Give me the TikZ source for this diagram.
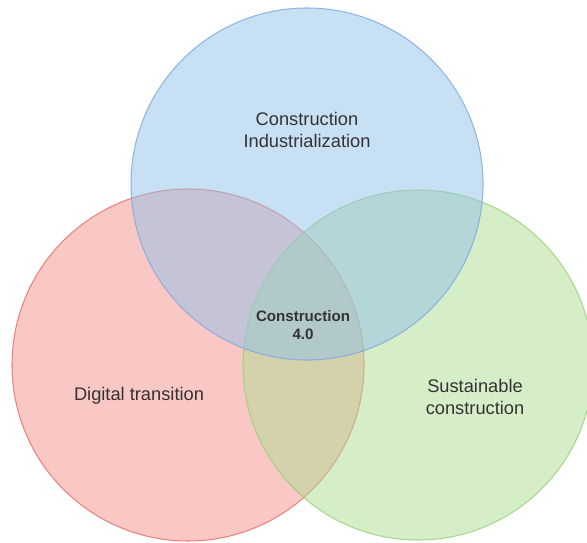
\documentclass[tikz,border=0pt]{standalone}
\usepackage{fontspec}
\setmainfont{Liberation Sans}
\definecolor{redfill}{HTML}{F5918A}
\definecolor{redline}{HTML}{EA6B66}
\definecolor{bluefill}{HTML}{91C1E9}
\definecolor{blueline}{HTML}{7EA6E0}
\definecolor{greenfill}{HTML}{ADDD91}
\definecolor{greenline}{HTML}{97D077}
\definecolor{labeltext}{HTML}{333333}
\begin{document}
\begin{tikzpicture}[
    x=0.02cm, y=-0.02cm,
    venn/.style={line width=0.6pt, fill opacity=0.5, draw opacity=0.8},
    area/.style={align=center, text=labeltext, font=\fontsize{10.4}{12.4}\selectfont},
    core/.style={align=center, text=labeltext, font=\bfseries\fontsize{8.6}{10.2}\selectfont}
]
    \useasboundingbox (0,0) rectangle (587,543);

    % Kreise
    \draw[venn, draw=redline, fill=redfill] (188,365) circle[radius=176];
    \draw[venn, draw=greenline, fill=greenfill] (418,365) circle[radius=175];
    \draw[venn, draw=blueline, fill=bluefill] (307,184) circle[radius=176];

    % Beschriftungen
    \node[area] (industrial) at (307,130) {Construction\\Industrialization};
    \node[area] (digital) at (139,396) {Digital transition};
    \node[area] (sustainable) at (475,397) {Sustainable\\construction};
    \node[core] (construction) at (303,325) {Construction\\4.0};
\end{tikzpicture}
\end{document}
